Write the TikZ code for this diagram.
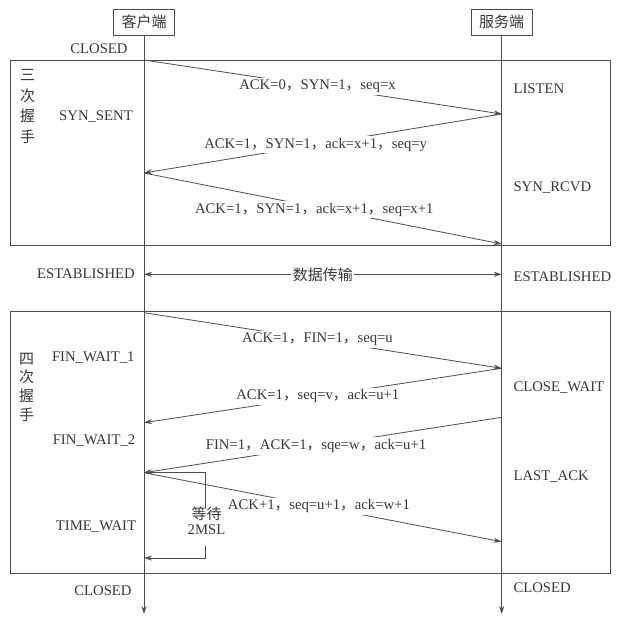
\documentclass[tikz,border=0pt]{standalone}
\usepackage{fontspec}
\setmainfont{Liberation Serif}
\newfontfamily\cjk{Noto Sans CJK SC}
\usetikzlibrary{arrows.meta}
\definecolor{ink}{HTML}{383838}
\definecolor{wire}{HTML}{4D4D4D}
\newcommand{\dou}{{\cjk ，}}

\begin{document}
\begin{tikzpicture}[x=1pt,y=-1pt,
	every node/.style={text=ink,font=\fontsize{14.7}{17}\selectfont},
	endbox/.style={draw=wire,line width=0.9pt,font=\cjk\fontsize{15}{17}\selectfont,minimum width=61pt,minimum height=26pt,inner sep=0pt},
	life/.style={draw=wire,line width=0.9pt,-{Stealth[length=8pt,width=5pt]}},
	msg/.style={draw=wire,line width=0.8pt,-{Stealth[length=8pt,width=5pt]}},
	lbl/.style={fill=white,inner sep=2pt},
	frame/.style={draw=wire,line width=0.9pt},
	vert/.style={font=\cjk\fontsize{15}{20.5}\selectfont,align=center}]
\useasboundingbox (0,0) rectangle (616,621);
\fill[white] (0,0) rectangle (616,621);

% the two phases
\draw[frame] (10,60) rectangle (610,245.5);
\draw[frame] (10,311.5) rectangle (610,573);
\node[vert] (three) at (27.5,106.5) {三\\次\\握\\手};
\node[vert,font=\cjk\fontsize{15}{18.7}\selectfont] (four) at (26.7,387) {四\\次\\握\\手};

% client and server
\node[endbox] (client) at (144,22) {客户端};
\node[endbox] (server) at (501.7,22) {服务端};
\coordinate (cend) at (144,614);
\coordinate (send) at (501.7,614);
\draw[life] (client.south) -- (cend);
\draw[life] (server.south) -- (send);

% points on the lines
\coordinate (c1) at (144,60);
\coordinate (s1) at (501.7,114);
\coordinate (c2) at (144,173);
\coordinate (s2) at (501.7,244);
\coordinate (c3) at (144,312.7);
\coordinate (s3) at (501.7,368.3);
\coordinate (c4) at (144,422.7);
\coordinate (s4) at (501.7,417.3);
\coordinate (c5) at (144,472.7);
\coordinate (s5) at (501.7,541.7);
\coordinate (c6) at (144,558);
\coordinate (e1) at (144,274.3);
\coordinate (e2) at (501.7,274.3);

% states
\node (closedc) at (99,49) {CLOSED};
\node (synsent) at (96,117) {SYN\_SENT};
\node (estc) at (86,274) {ESTABLISHED};
\node (fin1) at (93.3,358) {FIN\_WAIT\_1};
\node (fin2) at (94,441) {FIN\_WAIT\_2};
\node (timew) at (96,527) {TIME\_WAIT};
\node (closedc2) at (103,591) {CLOSED};
\foreach \nm/\txt/\yy in {listen/LISTEN/89, rcvd/SYN\_RCVD/188, ests/ESTABLISHED/277,
	closew/CLOSE\_WAIT/388, lastack/LAST\_ACK/477, closeds/CLOSED/588}{
	\node[anchor=west] (\nm) at (510,\yy) {\txt};}

% handshake
\draw[msg] (c1) -- node[lbl,pos=0.485] (m1) {ACK=0\dou SYN=1\dou seq=x} (s1);
\draw[msg] (s1) -- node[lbl,pos=0.52] (m2) {ACK=1\dou SYN=1\dou ack=x+1\dou seq=y} (c2);
\draw[msg] (c2) -- node[lbl,pos=0.476,yshift=-3pt] (m3) {ACK=1\dou SYN=1\dou ack=x+1\dou seq=x+1} (s2);

% data
\draw[wire,line width=0.8pt,{Stealth[length=8pt,width=5pt]}-{Stealth[length=8pt,width=5pt]}] (e1) -- node[lbl,font=\cjk\fontsize{15}{17}\selectfont,inner sep=1.5pt] (data) {数据传输} (e2);

% teardown
\draw[msg] (c3) -- node[lbl,pos=0.485] (m4) {ACK=1\dou FIN=1\dou seq=u} (s3);
\draw[msg] (s3) -- node[lbl,pos=0.514] (m5) {ACK=1\dou seq=v\dou ack=u+1} (c4);
\draw[msg] (s4) -- node[lbl,pos=0.519] (m6) {FIN=1\dou ACK=1\dou sqe=w\dou ack=u+1} (c5);
\draw[msg] (c5) -- node[lbl,pos=0.489] (m7) {ACK+1\dou seq=u+1\dou ack=w+1} (s5);

% 2MSL
\node[align=center,inner sep=1pt] (wait) at (206.5,521) {{\cjk\fontsize{15}{15}\selectfont 等待}\\[-2pt]2MSL};
\coordinate (w1) at (205,472.7);
\coordinate (w2) at (205,508);
\coordinate (w3) at (205,546);
\draw[wire,line width=0.8pt] (c5) -- (w1) -- (w2);
\draw[msg] (w3) |- (c6);
\end{tikzpicture}
\end{document}
